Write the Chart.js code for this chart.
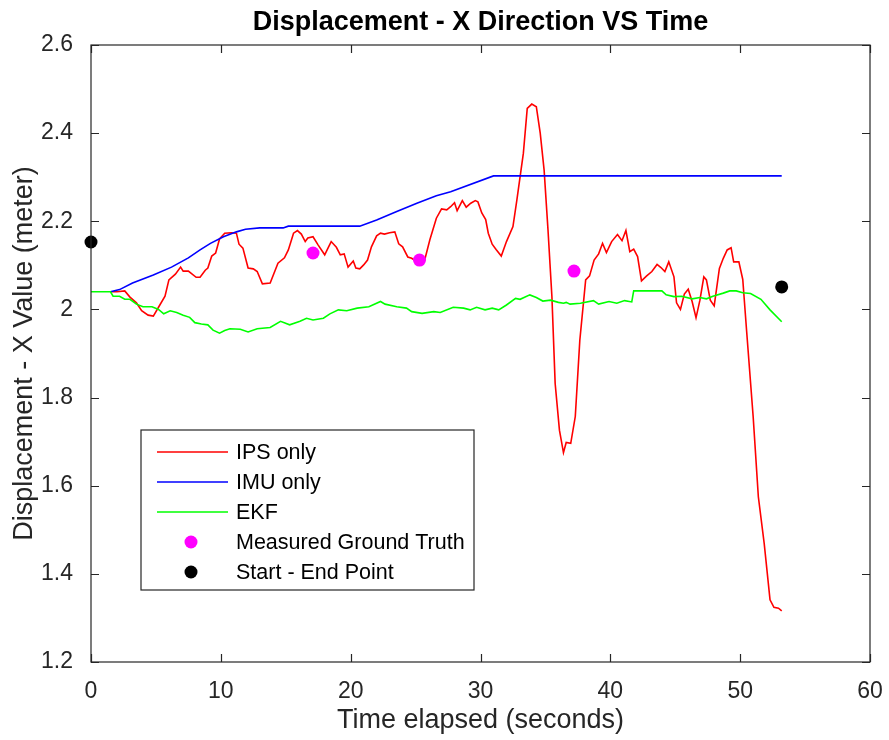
<!DOCTYPE html>
<html lang="en">
<head>
<meta charset="UTF-8">
<title>Displacement - X Direction VS Time</title>
<script src="https://cdn.jsdelivr.net/npm/chart.js"></script>
<style>
    html, body { margin: 0; padding: 0; background: #ffffff; }
    #wrap { width: 889px; height: 740px; }
</style>
</head>
<body>
<div id="wrap"><canvas id="dispChart" width="889" height="740"></canvas></div>
<script>
// IPS only
const ipsTime = [1.5, 2.0, 2.6, 3.0, 3.5, 3.9, 4.4, 4.8, 5.2, 5.7, 6.0, 6.5, 6.9, 7.1, 7.5, 8.1, 8.4, 8.8, 9.0, 9.3,
    9.6, 9.9, 10.3, 10.8, 11.2, 11.4, 11.7, 12.1, 12.5, 12.8, 13.2, 13.8, 14.4, 14.9, 15.2, 15.6, 15.9, 16.2, 16.5, 16.7,
    17.1, 17.5, 18.0, 18.3, 18.5, 18.9, 19.2, 19.5, 19.8, 20.2, 20.4, 20.7, 21.0, 21.3, 21.6, 22.0, 22.3, 22.6, 23.0, 23.4,
    23.7, 24.0, 24.4, 24.7, 25.1, 25.7, 26.1, 26.6, 27.0, 27.4, 27.7, 28.0, 28.2, 28.6, 28.9, 29.25, 29.6, 29.8, 30.1, 30.4,
    30.6, 30.9, 31.2, 31.6, 32.0, 32.5, 32.8, 33.3, 33.6, 33.95, 34.3, 34.6, 34.9, 35.2, 35.5, 35.75, 36.08, 36.39, 36.6, 36.95,
    37.3, 37.65, 38.1, 38.4, 38.75, 39.1, 39.4, 39.7, 40.1, 40.55, 40.9, 41.2, 41.5, 41.8, 42.1, 42.4, 42.8, 43.2, 43.6, 43.9,
    44.2, 44.5, 44.9, 45.1, 45.4, 45.7, 46.0, 46.3, 46.6, 46.9, 47.2, 47.4, 47.7, 48.0, 48.4, 48.7, 49.0, 49.3, 49.5, 49.9,
    50.2, 50.5, 51.0, 51.4, 51.85, 52.3, 52.6, 52.95, 53.2];
const ipsValue = [2.04, 2.04, 2.042, 2.028, 2.015, 1.997, 1.987, 1.985, 2.005, 2.03, 2.067, 2.08, 2.096, 2.087, 2.087, 2.073, 2.073, 2.089, 2.094, 2.121,
    2.128, 2.16, 2.173, 2.174, 2.173, 2.148, 2.139, 2.094, 2.092, 2.086, 2.058, 2.06, 2.105, 2.117, 2.135, 2.173, 2.179, 2.171, 2.154, 2.162,
    2.165, 2.146, 2.124, 2.142, 2.154, 2.141, 2.124, 2.126, 2.096, 2.11, 2.094, 2.092, 2.101, 2.112, 2.142, 2.167, 2.173, 2.171, 2.174, 2.176,
    2.149, 2.142, 2.119, 2.116, 2.108, 2.112, 2.158, 2.207, 2.228, 2.226, 2.233, 2.242, 2.224, 2.247, 2.232, 2.241, 2.247, 2.244, 2.219, 2.204,
    2.173, 2.148, 2.136, 2.121, 2.154, 2.188, 2.248, 2.354, 2.456, 2.466, 2.46, 2.4, 2.316, 2.18, 2.029, 1.832, 1.726, 1.675, 1.698, 1.696,
    1.757, 1.93, 2.067, 2.076, 2.112, 2.126, 2.15, 2.129, 2.154, 2.17, 2.156, 2.179, 2.131, 2.137, 2.12, 2.065, 2.076, 2.086, 2.102, 2.095,
    2.086, 2.108, 2.074, 2.015, 2.0, 2.035, 2.046, 2.018, 1.981, 2.021, 2.074, 2.067, 2.021, 2.008, 2.093, 2.116, 2.135, 2.14, 2.108, 2.108,
    2.068, 1.95, 1.757, 1.575, 1.469, 1.341, 1.324, 1.322, 1.316];

// IMU only
const imuTime = [1.5, 2.2, 3.2, 4.8, 6.2, 7.5, 8.4, 9.2, 10.2, 11.2, 11.9, 13.0, 14.8, 15.2, 20.7, 22.0, 23.55, 25.1, 26.6, 27.7, 31.0, 53.2];
const imuValue = [2.04, 2.045, 2.06, 2.078, 2.096, 2.117, 2.135, 2.15, 2.165, 2.176, 2.182, 2.185, 2.185, 2.189, 2.189, 2.203, 2.222, 2.241, 2.258, 2.267, 2.303, 2.303];

// EKF
const ekfTime = [0, 1.5, 1.7, 2.2, 2.6, 3.0, 3.5, 4.0, 4.7, 5.2, 5.6, 6.1, 6.6, 7.1, 7.6, 8.0, 8.5, 9.0, 9.4, 9.9,
    10.3, 10.7, 11.5, 12.1, 12.8, 13.8, 14.6, 15.3, 16.1, 16.6, 17.1, 17.9, 18.4, 19.05, 19.7, 20.5, 21.4, 22.3, 22.65, 23.55,
    24.3, 24.7, 25.5, 26.4, 26.9, 27.9, 28.7, 29.2, 29.7, 30.35, 30.9, 31.4, 32.0, 32.7, 33.05, 33.8, 34.3, 34.8, 35.4, 36.0,
    36.4, 36.6, 36.9, 37.7, 38.7, 39.1, 39.9, 40.5, 41.1, 41.65, 41.8, 42.8, 43.97, 44.3, 44.9, 45.5, 46.3, 46.9, 47.4, 47.9,
    48.7, 49.2, 49.7, 50.2, 50.8, 51.6, 52.3, 53.2];
const ekfValue = [2.04, 2.04, 2.03, 2.03, 2.023, 2.023, 2.012, 2.006, 2.006, 2.0, 1.99, 1.997, 1.993, 1.987, 1.982, 1.97, 1.967, 1.965, 1.953, 1.946,
    1.952, 1.956, 1.955, 1.949, 1.956, 1.959, 1.973, 1.965, 1.973, 1.98, 1.976, 1.98, 1.99, 1.999, 1.997, 2.003, 2.006, 2.018, 2.012, 2.006,
    2.003, 1.995, 1.991, 1.995, 1.993, 2.005, 2.003, 1.999, 2.005, 1.999, 2.003, 1.999, 2.01, 2.025, 2.023, 2.033, 2.027, 2.019, 2.021, 2.016,
    2.014, 2.016, 2.012, 2.014, 2.02, 2.012, 2.018, 2.014, 2.02, 2.017, 2.042, 2.042, 2.042, 2.033, 2.029, 2.03, 2.024, 2.027, 2.024, 2.03,
    2.037, 2.042, 2.042, 2.038, 2.036, 2.023, 1.999, 1.972];

// Measured ground truth and start/end points
const truthTime = [17.1, 25.3, 37.2];
const truthValue = [2.128, 2.112, 2.087];
const endsTime = [0, 53.2];
const endsValue = [2.153, 2.051];

const xTicks = [0, 10, 20, 30, 40, 50, 60];
const yTicks = [1.2, 1.4, 1.6, 1.8, 2, 2.2, 2.4, 2.6];

const FONT = "'Liberation Sans', Arial, Helvetica, sans-serif";
const AXIS_COLOR = '#262626';

function toPoints(xs, ys) {
    return xs.map((x, i) => ({ x: x, y: ys[i] }));
}

// box around the axes with inward ticks on all four sides
const boxAxes = {
    id: 'boxAxes',
    afterDatasetsDraw(chart) {
        const { ctx, chartArea: a, scales } = chart;
        const len = 8;
        ctx.save();
        ctx.strokeStyle = AXIS_COLOR;
        ctx.lineWidth = 1.2;
        ctx.strokeRect(a.left, a.top, a.right - a.left, a.bottom - a.top);
        ctx.beginPath();
        xTicks.forEach(v => {
            const px = Math.round(scales.x.getPixelForValue(v)) + 0.5;
            ctx.moveTo(px, a.bottom); ctx.lineTo(px, a.bottom - len);
            ctx.moveTo(px, a.top); ctx.lineTo(px, a.top + len);
        });
        yTicks.forEach(v => {
            const py = Math.round(scales.y.getPixelForValue(v)) + 0.5;
            ctx.moveTo(a.left, py); ctx.lineTo(a.left + len, py);
            ctx.moveTo(a.right, py); ctx.lineTo(a.right - len, py);
        });
        ctx.stroke();
        ctx.restore();
    }
};

// legend drawn as a framed box inside the plot
const boxLegend = {
    id: 'boxLegend',
    afterDraw(chart) {
        const { ctx, chartArea: a } = chart;
        const left = a.left + 50, top = a.top + 385, w = 333, h = 160;
        ctx.save();
        ctx.fillStyle = '#ffffff';
        ctx.fillRect(left, top, w, h);
        ctx.strokeStyle = AXIS_COLOR;
        ctx.lineWidth = 1.2;
        ctx.strokeRect(left, top, w, h);
        ctx.font = '21.5px ' + FONT;
        ctx.textBaseline = 'middle';
        chart.data.datasets.forEach((ds, i) => {
            const y = top + 22 + i * 30;
            if (ds.showLine) {
                ctx.strokeStyle = ds.borderColor;
                ctx.lineWidth = 1.6;
                ctx.beginPath();
                ctx.moveTo(left + 16, y);
                ctx.lineTo(left + 87, y);
                ctx.stroke();
            } else {
                ctx.fillStyle = ds.backgroundColor;
                ctx.beginPath();
                ctx.arc(left + 50, y, 6.5, 0, Math.PI * 2);
                ctx.fill();
            }
            ctx.fillStyle = '#000000';
            ctx.fillText(ds.label, left + 95, y + 1);
        });
        ctx.restore();
    }
};

const lineSet = (label, xs, ys, color, order) => ({
    label: label,
    data: toPoints(xs, ys),
    showLine: true,
    borderColor: color,
    backgroundColor: color,
    borderWidth: 1.6,
    pointRadius: 0,
    tension: 0,
    order: order
});

const dotSet = (label, xs, ys, color, order) => ({
    label: label,
    data: toPoints(xs, ys),
    showLine: false,
    borderColor: color,
    backgroundColor: color,
    pointRadius: 6.5,
    pointBorderWidth: 0,
    clip: false,
    order: order
});

new Chart(document.getElementById('dispChart'), {
    type: 'scatter',
    data: {
        datasets: [
            lineSet('IPS only', ipsTime, ipsValue, '#ff0000', 5),
            lineSet('IMU only', imuTime, imuValue, '#0000ff', 4),
            lineSet('EKF', ekfTime, ekfValue, '#00ff00', 3),
            dotSet('Measured Ground Truth', truthTime, truthValue, '#ff00ff', 2),
            dotSet('Start - End Point', endsTime, endsValue, '#000000', 1)
        ]
    },
    options: {
        responsive: false,
        animation: false,
        layout: { padding: { left: 0, right: 19, top: 0, bottom: 0 } },
        plugins: {
            legend: { display: false },
            tooltip: { enabled: false },
            title: {
                display: true,
                fullSize: false,
                text: 'Displacement - X Direction VS Time',
                color: '#000000',
                font: { family: FONT, size: 27, weight: 'bold' },
                padding: { top: 6, bottom: 6.6 }
            }
        },
        scales: {
            x: {
                type: 'linear',
                min: 0,
                max: 60,
                // the tick labels may overhang the plot edges; keep the plot box fixed
                afterFit: s => { s.height = 78; s.paddingLeft = 0; s.paddingRight = 0; },
                afterBuildTicks: s => { s.ticks = xTicks.map(v => ({ value: v })); },
                grid: { display: false },
                border: { display: false },
                ticks: { color: AXIS_COLOR, padding: 8, maxRotation: 0, font: { family: FONT, size: 23 } },
                title: {
                    display: true,
                    text: 'Time elapsed (seconds)',
                    color: AXIS_COLOR,
                    font: { family: FONT, size: 27 },
                    padding: { top: 0, bottom: 3 }
                }
            },
            y: {
                type: 'linear',
                min: 1.2,
                max: 2.6,
                afterFit: s => { s.width = 91; s.paddingTop = 0; s.paddingBottom = 0; },
                afterBuildTicks: s => { s.ticks = yTicks.map(v => ({ value: v })); },
                grid: { display: false },
                border: { display: false },
                ticks: {
                    color: AXIS_COLOR,
                    padding: 10,
                    font: { family: FONT, size: 23 },
                    callback: v => String(Number(v.toFixed(1)))
                },
                title: {
                    display: true,
                    text: 'Displacement - X Value (meter)',
                    color: AXIS_COLOR,
                    font: { family: FONT, size: 27 },
                    padding: { top: 8, bottom: 0 }
                }
            }
        }
    },
    plugins: [boxAxes, boxLegend]
});
</script>
</body>
</html>
